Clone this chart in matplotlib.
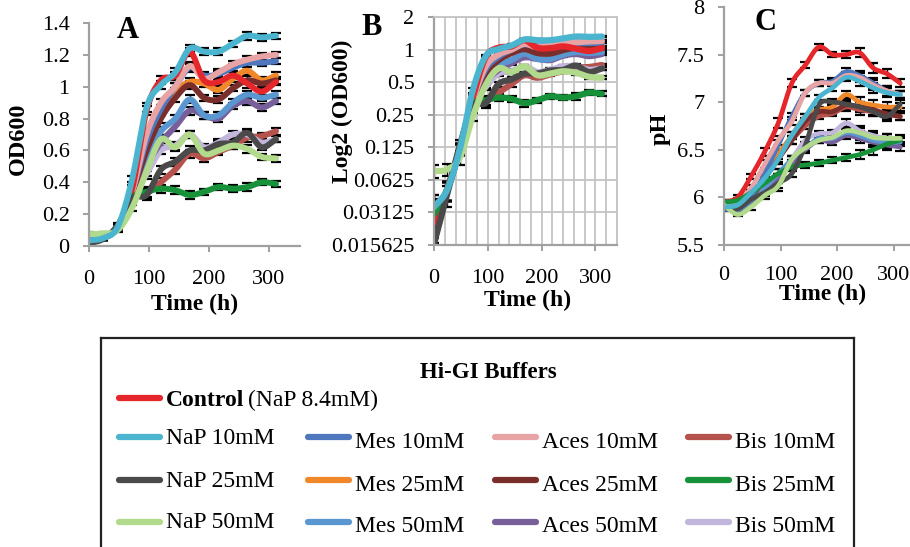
import numpy as np
import matplotlib
matplotlib.use("Agg")
import matplotlib.pyplot as plt
from matplotlib.ticker import FixedLocator, MultipleLocator, NullFormatter

plt.rcParams["font.family"] = ["Liberation Serif", "DejaVu Serif"]

# ---------------------------------------------------------------- data
hours = [0, 24, 48, 72, 96, 120, 144, 168, 192, 216, 240, 264, 288, 312]

names = ["Control", "NaP 10mM", "NaP 25mM", "NaP 50mM",
         "Mes 10mM", "Mes 25mM", "Mes 50mM",
         "Aces 10mM", "Aces 25mM", "Aces 50mM",
         "Bis 10mM", "Bis 25mM", "Bis 50mM"]

colors = {"Control": "#E5262B", "NaP 10mM": "#4BB5CF", "NaP 25mM": "#4A4A4A",
          "NaP 50mM": "#B2DA8C", "Mes 10mM": "#4F77BE", "Mes 25mM": "#F0882A",
          "Mes 50mM": "#5A96D0", "Aces 10mM": "#E8A4A4", "Aces 25mM": "#7A2E2C",
          "Aces 50mM": "#77609A", "Bis 10mM": "#B5524E", "Bis 25mM": "#17913A",
          "Bis 50mM": "#C3B6DC"}

# optical density at 600 nm
od600 = {
    "Control":   [0.025, 0.05, 0.12, 0.36, 0.85, 1.04, 1.07, 1.22, 1.04, 1.03, 1.07, 1.02, 0.97, 1.03],
    "NaP 10mM":  [0.035, 0.05, 0.12, 0.42, 0.87, 1.01, 1.09, 1.24, 1.22, 1.22, 1.27, 1.32, 1.31, 1.32],
    "NaP 25mM":  [0.016, 0.045, 0.13, 0.30, 0.32, 0.48, 0.53, 0.60, 0.60, 0.64, 0.65, 0.71, 0.62, 0.67],
    "NaP 50mM":  [0.075, 0.078, 0.10, 0.24, 0.47, 0.67, 0.62, 0.70, 0.58, 0.60, 0.63, 0.61, 0.56, 0.55],
    "Mes 10mM":  [0.035, 0.05, 0.12, 0.34, 0.66, 0.86, 1.00, 1.12, 1.07, 1.08, 1.12, 1.15, 1.15, 1.16],
    "Mes 25mM":  [0.030, 0.05, 0.12, 0.32, 0.62, 0.85, 0.97, 1.03, 1.02, 0.98, 1.05, 1.10, 1.04, 1.07],
    "Mes 50mM":  [0.032, 0.05, 0.12, 0.31, 0.55, 0.72, 0.80, 0.92, 0.82, 0.82, 0.90, 0.95, 0.93, 0.95],
    "Aces 10mM": [0.030, 0.05, 0.12, 0.34, 0.70, 0.90, 1.00, 1.13, 1.05, 1.09, 1.14, 1.17, 1.19, 1.20],
    "Aces 25mM": [0.028, 0.05, 0.12, 0.33, 0.60, 0.80, 0.93, 1.01, 0.93, 0.92, 0.99, 1.04, 1.02, 1.04],
    "Aces 50mM": [0.030, 0.05, 0.12, 0.30, 0.50, 0.65, 0.75, 0.85, 0.82, 0.80, 0.88, 0.91, 0.87, 0.91],
    "Bis 10mM":  [0.025, 0.05, 0.12, 0.30, 0.33, 0.40, 0.48, 0.58, 0.55, 0.59, 0.63, 0.68, 0.69, 0.72],
    "Bis 25mM":  [0.030, 0.05, 0.12, 0.30, 0.34, 0.36, 0.35, 0.32, 0.34, 0.37, 0.36, 0.37, 0.40, 0.39],
    "Bis 50mM":  [0.030, 0.05, 0.12, 0.30, 0.45, 0.60, 0.63, 0.70, 0.62, 0.65, 0.70, 0.70, 0.65, 0.67],
}
od600_err = [0.010, 0.010, 0.015, 0.020, 0.030, 0.025, 0.025, 0.025, 0.020, 0.020, 0.020, 0.025, 0.020, 0.020]

# medium pH
ph = {
    "Control":   [5.95, 6.00, 6.22, 6.48, 6.78, 7.20, 7.39, 7.58, 7.50, 7.50, 7.52, 7.36, 7.30, 7.20],
    "NaP 10mM":  [5.90, 5.92, 6.05, 6.20, 6.40, 6.65, 6.85, 7.05, 7.15, 7.26, 7.22, 7.15, 7.10, 7.08],
    "NaP 25mM":  [5.90, 5.88, 5.98, 6.05, 6.15, 6.25, 6.55, 6.97, 7.00, 6.98, 6.95, 6.90, 6.85, 6.98],
    "NaP 50mM":  [5.92, 5.82, 5.90, 6.02, 6.12, 6.40, 6.52, 6.60, 6.63, 6.70, 6.68, 6.63, 6.62, 6.62],
    "Mes 10mM":  [5.88, 5.88, 6.00, 6.25, 6.55, 6.85, 7.10, 7.20, 7.22, 7.32, 7.28, 7.20, 7.12, 7.08],
    "Mes 25mM":  [5.90, 5.90, 6.00, 6.20, 6.45, 6.65, 6.85, 6.92, 6.95, 7.08, 7.00, 6.97, 6.95, 6.95],
    "Mes 50mM":  [5.88, 5.87, 5.97, 6.10, 6.25, 6.40, 6.52, 6.62, 6.62, 6.68, 6.65, 6.60, 6.58, 6.58],
    "Aces 10mM": [5.90, 5.95, 6.10, 6.35, 6.60, 6.80, 7.10, 7.20, 7.20, 7.28, 7.26, 7.18, 7.12, 7.08],
    "Aces 25mM": [5.90, 5.90, 6.00, 6.20, 6.40, 6.60, 6.80, 6.90, 6.90, 6.97, 6.95, 6.92, 6.88, 6.85],
    "Aces 50mM": [5.90, 5.87, 5.95, 6.05, 6.20, 6.35, 6.50, 6.60, 6.58, 6.65, 6.62, 6.58, 6.55, 6.53],
    "Bis 10mM":  [5.90, 5.90, 6.02, 6.20, 6.42, 6.60, 6.75, 6.85, 6.88, 6.95, 6.92, 6.90, 6.87, 6.85],
    "Bis 25mM":  [5.95, 5.97, 6.05, 6.15, 6.25, 6.32, 6.34, 6.36, 6.39, 6.42, 6.45, 6.50, 6.56, 6.60],
    "Bis 50mM":  [5.90, 5.88, 5.98, 6.10, 6.20, 6.40, 6.60, 6.67, 6.68, 6.78, 6.70, 6.65, 6.62, 6.60],
}
ph_err = [0.02, 0.02, 0.03, 0.04, 0.05, 0.04, 0.03, 0.03, 0.03, 0.04, 0.05, 0.05, 0.05, 0.04]

od_ticks = [0, 0.2, 0.4, 0.6, 0.8, 1.0, 1.2, 1.4]
od_ticklabels = ["0", "0.2", "0.4", "0.6", "0.8", "1", "1.2", "1.4"]
log_ticks = [0.015625, 0.03125, 0.0625, 0.125, 0.25, 0.5, 1, 2]
log_ticklabels = ["0.015625", "0.03125", "0.0625", "0.125", "0.25", "0.5", "1", "2"]
ph_ticks = [5.5, 6, 6.5, 7, 7.5, 8]
ph_ticklabels = ["5.5", "6", "6.5", "7", "7.5", "8"]
time_ticks = [0, 100, 200, 300]

# order in which the curves are stacked (first = bottom)
draw_order = ["Bis 10mM", "Bis 50mM", "Aces 50mM", "Mes 50mM", "Mes 25mM",
              "Aces 25mM", "Mes 10mM", "Aces 10mM", "Control", "Bis 25mM",
              "NaP 25mM", "NaP 50mM", "NaP 10mM"]

# ---------------------------------------------------------------- helpers
W, H = 910, 547
fig = plt.figure(figsize=(W / 100, H / 100), dpi=100)
AXIS_GREY = "#A0A0A0"
TICK_FS = 16
LABEL_FS = 17


def px_axes(left, top, right, bottom):
    return fig.add_axes([left / W, 1 - bottom / H, (right - left) / W, (bottom - top) / H])


def smooth(x, y, n=16):
    """Catmull-Rom curve through the points (spreadsheet style smoothed line)."""
    x = np.asarray(x, float)
    y = np.asarray(y, float)
    px = np.concatenate([[2 * x[0] - x[1]], x, [2 * x[-1] - x[-2]]])
    py = np.concatenate([[2 * y[0] - y[1]], y, [2 * y[-1] - y[-2]]])
    xs, ys = [], []
    t = np.linspace(0, 1, n, endpoint=False)
    for i in range(1, len(px) - 2):
        for arr, out in ((px, xs), (py, ys)):
            p0, p1, p2, p3 = arr[i - 1], arr[i], arr[i + 1], arr[i + 2]
            out.extend(0.5 * (2 * p1 + (-p0 + p2) * t + (2 * p0 - 5 * p1 + 4 * p2 - p3) * t ** 2
                              + (-p0 + 3 * p1 - 3 * p2 + p3) * t ** 3))
    xs.append(x[-1])
    ys.append(y[-1])
    return np.array(xs), np.array(ys)


def style_axes(ax):
    for side in ("top", "right"):
        ax.spines[side].set_visible(False)
    for side in ("left", "bottom"):
        ax.spines[side].set_color(AXIS_GREY)
        ax.spines[side].set_linewidth(1.6)
    ax.tick_params(axis="both", which="major", direction="out", length=4, width=1.4,
                   color=AXIS_GREY, labelsize=TICK_FS, labelcolor="black")
    ax.tick_params(axis="y", pad=10)
    ax.tick_params(axis="x", pad=13)
    ax.set_xticks(time_ticks)
    ax.set_xticklabels([str(t) for t in time_ticks])
    ax.set_xlabel("Time (h)", fontsize=LABEL_FS, fontweight="bold", labelpad=0)


def draw_errorbars(ax, x, y, err, lower_floor=None):
    y = np.asarray(y, float)
    err = np.asarray(err, float)
    lo = err.copy()
    if lower_floor is not None:
        lo = np.minimum(err, y * lower_floor)
    ax.errorbar(x, y, yerr=[lo, err], fmt="none", ecolor="black", elinewidth=1.0,
                capsize=3.5, capthick=1.6, zorder=1)


# ---------------------------------------------------------------- panel A
axA = px_axes(89, 23, 300, 246)
for name in draw_order:
    draw_errorbars(axA, hours, od600[name], od600_err)
for name in draw_order:
    xs, ys = smooth(hours, od600[name])
    axA.plot(xs, ys, color=colors[name], lw=4.3, solid_capstyle="round", zorder=2)
axA.set_xlim(0, 352)
axA.set_ylim(0, 1.4)
axA.set_yticks(od_ticks)
axA.set_yticklabels(od_ticklabels)
style_axes(axA)
axA.set_ylabel("OD600", fontsize=LABEL_FS + 0.5, fontweight="bold")
axA.yaxis.set_label_coords(-0.285, 0.48)
axA.xaxis.set_label_coords(0.5, -0.215)
axA.text(0.185, 0.965, "A", transform=axA.transAxes, ha="center", va="center",
         fontsize=22, fontweight="bold")

# ---------------------------------------------------------------- panel B
axB = px_axes(434, 17, 617, 245)
axB.set_yscale("log", base=2)
for name in draw_order:
    draw_errorbars(axB, hours, od600[name], od600_err, lower_floor=0.35)
for name in draw_order:
    xs, ly = smooth(hours, np.log2(od600[name]))
    axB.plot(xs, 2.0 ** ly, color=colors[name], lw=4.5, solid_capstyle="round", zorder=2)
axB.set_xlim(0, 340)
axB.set_ylim(0.015625, 2)
axB.yaxis.set_major_locator(FixedLocator(log_ticks))
axB.set_yticklabels(log_ticklabels)
axB.yaxis.set_minor_formatter(NullFormatter())
axB.yaxis.set_minor_locator(FixedLocator([]))
style_axes(axB)
axB.xaxis.set_minor_locator(MultipleLocator(20))
axB.tick_params(axis="x", which="minor", length=0)
axB.grid(True, which="major", axis="y", color="#C4C4C4", lw=1.3, zorder=0)
axB.grid(True, which="both", axis="x", color="#C4C4C4", lw=1.3, zorder=0)
axB.set_axisbelow(True)
for side in ("top", "right"):
    axB.spines[side].set_visible(True)
    axB.spines[side].set_color("#C4C4C4")
    axB.spines[side].set_linewidth(1.3)
axB.set_ylabel("Log2 (OD600)", fontsize=LABEL_FS, fontweight="bold")
axB.yaxis.set_label_coords(-0.445, 0.585)
axB.xaxis.set_label_coords(0.51, -0.195)
axB.text(-0.34, 0.955, "B", transform=axB.transAxes, ha="center", va="center",
         fontsize=22, fontweight="bold")

# ---------------------------------------------------------------- panel C
axC = px_axes(724, 7, 724 + 350 * 0.565, 245)
for name in draw_order:
    draw_errorbars(axC, hours, ph[name], ph_err)
for name in draw_order:
    xs, ys = smooth(hours, ph[name])
    axC.plot(xs, ys, color=colors[name], lw=3.4, solid_capstyle="round", zorder=2)
axC.set_xlim(0, 350)
axC.set_ylim(5.5, 8)
axC.set_yticks(ph_ticks)
axC.set_yticklabels(ph_ticklabels)
style_axes(axC)
axC.tick_params(axis="x", pad=11)
axC.set_ylabel("pH", fontsize=LABEL_FS + 0.5, fontweight="bold")
axC.yaxis.set_label_coords(-0.27, 0.49)
axC.xaxis.set_label_coords(0.5, -0.165)
axC.text(0.21, 0.935, "C", transform=axC.transAxes, ha="center", va="center",
         fontsize=22, fontweight="bold")

# ---------------------------------------------------------------- legend box
axL = px_axes(101, 338, 854, 570)
axL.set_xlim(101, 854)
axL.set_ylim(570, 338)
axL.set_xticks([])
axL.set_yticks([])
for sp in axL.spines.values():
    sp.set_color("#222222")
    sp.set_linewidth(1.6)

LEG_FS = 17
axL.text(488, 372, "Hi-GI Buffers", ha="center", va="center", fontsize=16.5, fontweight="bold")

axL.plot([119, 160], [398, 398], color=colors["Control"], lw=4.5, solid_capstyle="round")
t_ctrl = axL.text(166, 400, "Control", ha="left", va="center", fontsize=LEG_FS, fontweight="bold")
fig.canvas.draw()
bb = t_ctrl.get_window_extent().transformed(axL.transData.inverted())
axL.text(bb.x1 + 4, 400, "(NaP 8.4mM)", ha="left", va="center", fontsize=LEG_FS)

legend_grid = [["NaP 10mM", "Mes 10mM", "Aces 10mM", "Bis 10mM"],
               ["NaP 25mM", "Mes 25mM", "Aces 25mM", "Bis 25mM"],
               ["NaP 50mM", "Mes 50mM", "Aces 50mM", "Bis 50mM"]]
col_x = [119, 308, 495, 688]
row_y = [437, 480, 522]
for r, row in enumerate(legend_grid):
    for c, name in enumerate(row):
        x0 = col_x[c]
        axL.plot([x0, x0 + 41], [row_y[r], row_y[r]], color=colors[name], lw=4.5,
                 solid_capstyle="round")
        dy = 1 if c == 0 else 5
        axL.text(x0 + 47, row_y[r] + dy, name, ha="left", va="center", fontsize=LEG_FS)

fig.savefig("out.png", dpi=100)
